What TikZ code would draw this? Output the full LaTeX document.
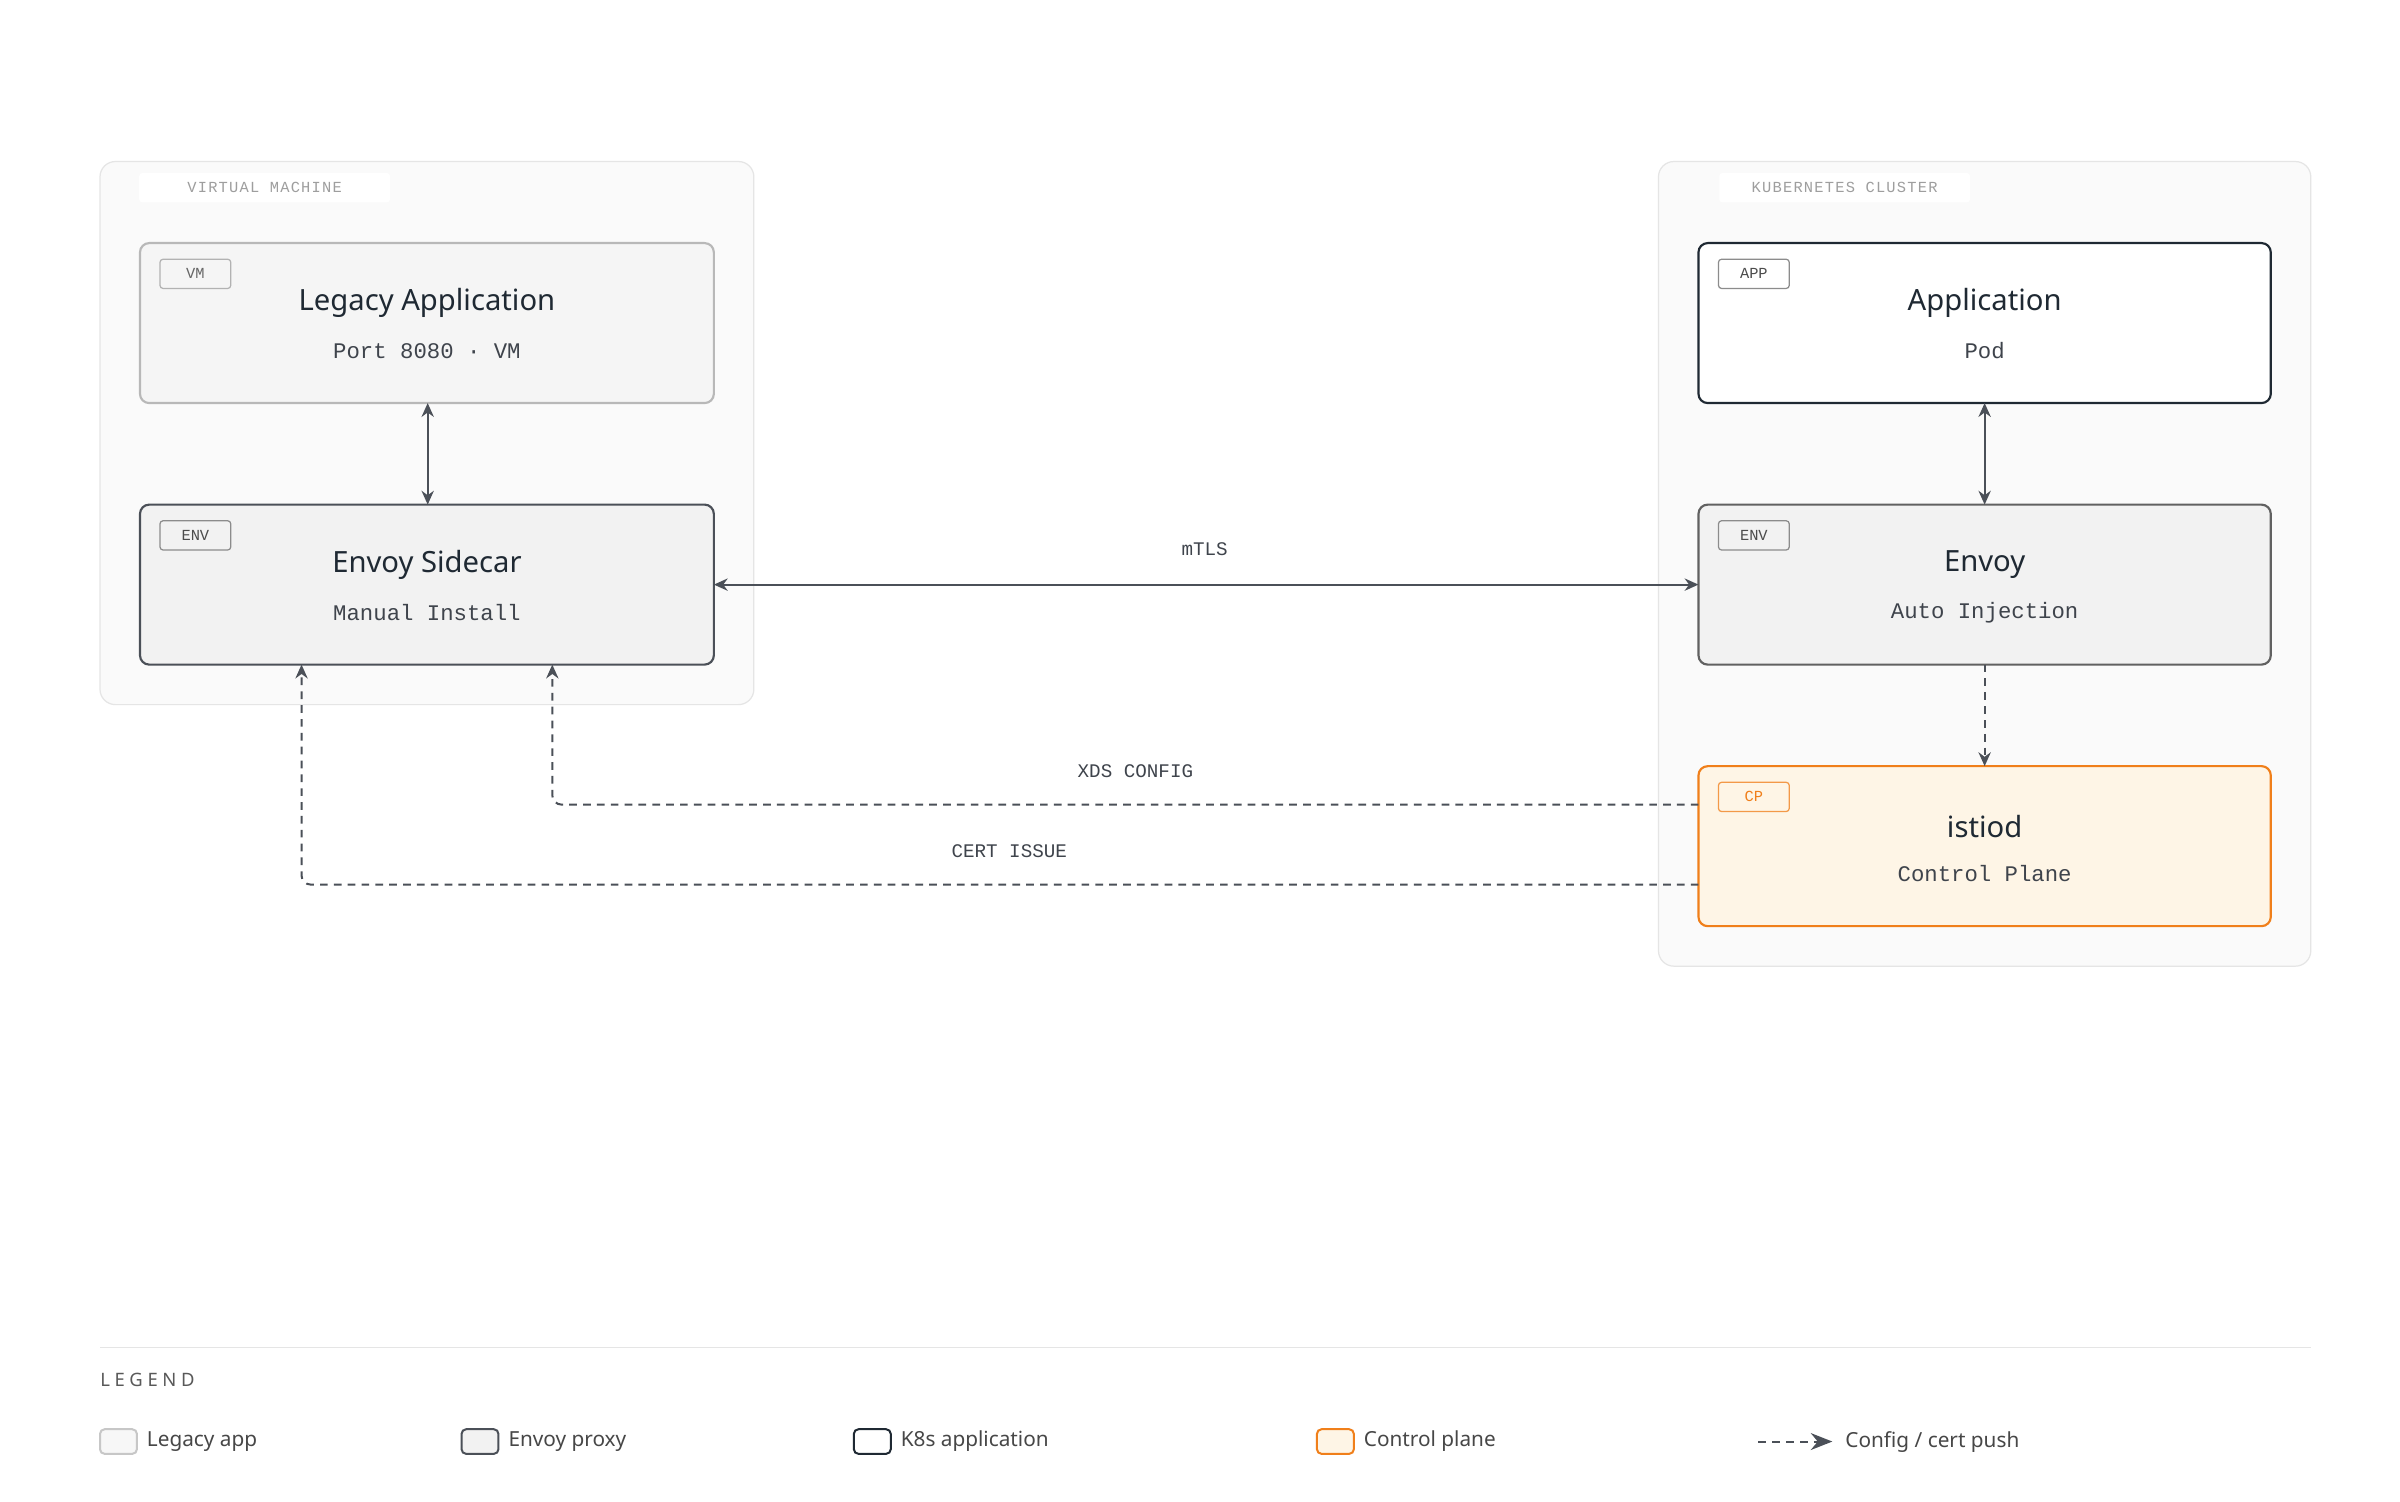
\documentclass[tikz,border=0pt]{standalone}
\usepackage{fontspec}
\setmainfont{Noto Sans}
\newfontfamily\mono{Liberation Mono}
\newfontfamily\monosp{Liberation Mono}[LetterSpace=8]
\newfontfamily\sanssp{Noto Sans}[LetterSpace=25]
\usetikzlibrary{arrows.meta}
\definecolor{ink}{HTML}{1F2933}
\definecolor{arr}{HTML}{4B5058}
\definecolor{sub}{HTML}{3F444C}
\definecolor{orng}{HTML}{F07F1A}
\definecolor{cream}{HTML}{FEF5E6}
\begin{document}
\begin{tikzpicture}[x=1pt,y=-1pt,
  cont/.style={draw=black!10,fill=black!2,rounded corners=10pt,line width=0.8pt},
  clab/.style={fill=white,rounded corners=2pt,text=black!38,font=\monosp\fontsize{10}{12}\selectfont,minimum width=163pt,minimum height=19pt,inner sep=0pt},
  box/.style={rounded corners=6pt,line width=1.4pt},
  tag/.style={draw,rounded corners=2pt,minimum width=46pt,minimum height=19pt,inner sep=0pt,font=\mono\fontsize{10}{12}\selectfont,line width=0.8pt},
  ttl/.style={font=\bfseries\fontsize{19}{22}\selectfont,text=ink},
  stl/.style={font=\mono\fontsize{14.5}{17}\selectfont,text=sub},
  elab/.style={font=\mono\fontsize{12.5}{15}\selectfont,text=sub},
  ar/.style={draw=arr,line width=1.3pt,-{Stealth[length=9pt,width=8pt]}},
  dar/.style={ar,dash pattern=on 5pt off 4pt,rounded corners=6pt},
  leg/.style={font=\fontsize{13.5}{16}\selectfont,text=black!72,anchor=west},
  sw/.style={rounded corners=3pt,line width=1.3pt,minimum width=24pt,minimum height=16pt,inner sep=0pt}]
\useasboundingbox[fill=white] (0,0) rectangle (1560,976);
% containers
\draw[cont] (65,105) rectangle (490,458);
\node[clab] (vmlab) at (172,122) {VIRTUAL MACHINE};
\draw[cont] (1078,105) rectangle (1502,628);
\node[clab] (k8lab) at (1199,122) {KUBERNETES CLUSTER};
% boxes
\draw[box,draw=black!28,fill=black!4] (91,158) rectangle (464,262);
\node[tag,draw=black!30,text=black!60] (t1) at (127,178) {VM};
\node[ttl] (legacy) at (277.5,197) {Legacy Application};
\node[stl] (legacys) at (277.5,228) {Port 8080 · VM};
\coordinate (legB) at (278,262);
\coordinate (sideT) at (278,328);

\draw[box,draw=arr,fill=black!5] (91,328) rectangle (464,432);
\node[tag,draw=black!45,text=black!70] (t2) at (127,348) {ENV};
\node[ttl] (side) at (277.5,367) {Envoy Sidecar};
\node[stl] (sides) at (277.5,398) {Manual Install};
\coordinate (sideR) at (464,380);
\coordinate (sideB1) at (196,432);
\coordinate (sideB2) at (359,432);

\draw[box,draw=ink,fill=white] (1104,158) rectangle (1476,262);
\node[tag,draw=black!45,text=black!70] (t3) at (1140,178) {APP};
\node[ttl] (app) at (1290,197) {Application};
\node[stl] (apps) at (1290,228) {Pod};
\coordinate (appB) at (1290,262);
\coordinate (envT) at (1290,328);

\draw[box,draw=black!62,fill=black!5] (1104,328) rectangle (1476,432);
\node[tag,draw=black!45,text=black!70] (t4) at (1140,348) {ENV};
\node[ttl] (env) at (1290,367) {Envoy};
\node[stl] (envs) at (1290,398) {Auto Injection};
\coordinate (envL) at (1104,380);
\coordinate (envB) at (1290,432);

\draw[box,draw=orng,fill=cream] (1104,498) rectangle (1476,602);
\node[tag,draw=orng!80,text=orng] (t5) at (1140,518) {CP};
\node[ttl] (ist) at (1290,537) {istiod};
\node[stl] (ists) at (1290,568) {Control Plane};
\coordinate (istT) at (1290,498);
\coordinate (istL1) at (1104,523);
\coordinate (istL2) at (1104,575);
% connectors
\draw[ar,{Stealth[length=9pt,width=8pt]}-{Stealth[length=9pt,width=8pt]}] (legB) -- (sideT);
\draw[ar,{Stealth[length=9pt,width=8pt]}-{Stealth[length=9pt,width=8pt]}] (appB) -- (envT);
\draw[ar,{Stealth[length=9pt,width=8pt]}-{Stealth[length=9pt,width=8pt]}] (sideR) -- (envL);
\node[elab] (mtls) at (783,357) {mTLS};
\draw[dar] (envB) -- (istT);
\draw[dar] (istL1) -- (359,523) -- (sideB2);
\node[elab] (xds) at (738,501) {XDS CONFIG};
\draw[dar] (istL2) -- (196,575) -- (sideB1);
\node[elab] (cert) at (656,553) {CERT ISSUE};
% legend
\draw[black!10,line width=0.8pt] (65,876) -- (1502,876);
\node[font=\sanssp\fontsize{12}{14}\selectfont,text=black!65,anchor=west,inner sep=0pt] (legt) at (65,897) {LEGEND};
\node[sw,draw=black!22,fill=black!3] (s1) at (77,937) {};
\node[leg] (l1) at (92,937) {Legacy app};
\node[sw,draw=arr,fill=black!5] (s2) at (312,937) {};
\node[leg] (l2) at (327,937) {Envoy proxy};
\node[sw,draw=ink,fill=white] (s3) at (567,937) {};
\node[leg] (l3) at (582,937) {K8s application};
\node[sw,draw=orng,fill=cream] (s4) at (868,937) {};
\node[leg] (l4) at (883,937) {Control plane};
\coordinate (la) at (1143,937);
\coordinate (lb) at (1191,937);
\draw[ar,dash pattern=on 5pt off 4pt,-{Stealth[length=14pt,width=11pt]}] (la) -- (lb);
\node[leg] (l5) at (1196,937) {Config / cert push};
\end{tikzpicture}
\end{document}
